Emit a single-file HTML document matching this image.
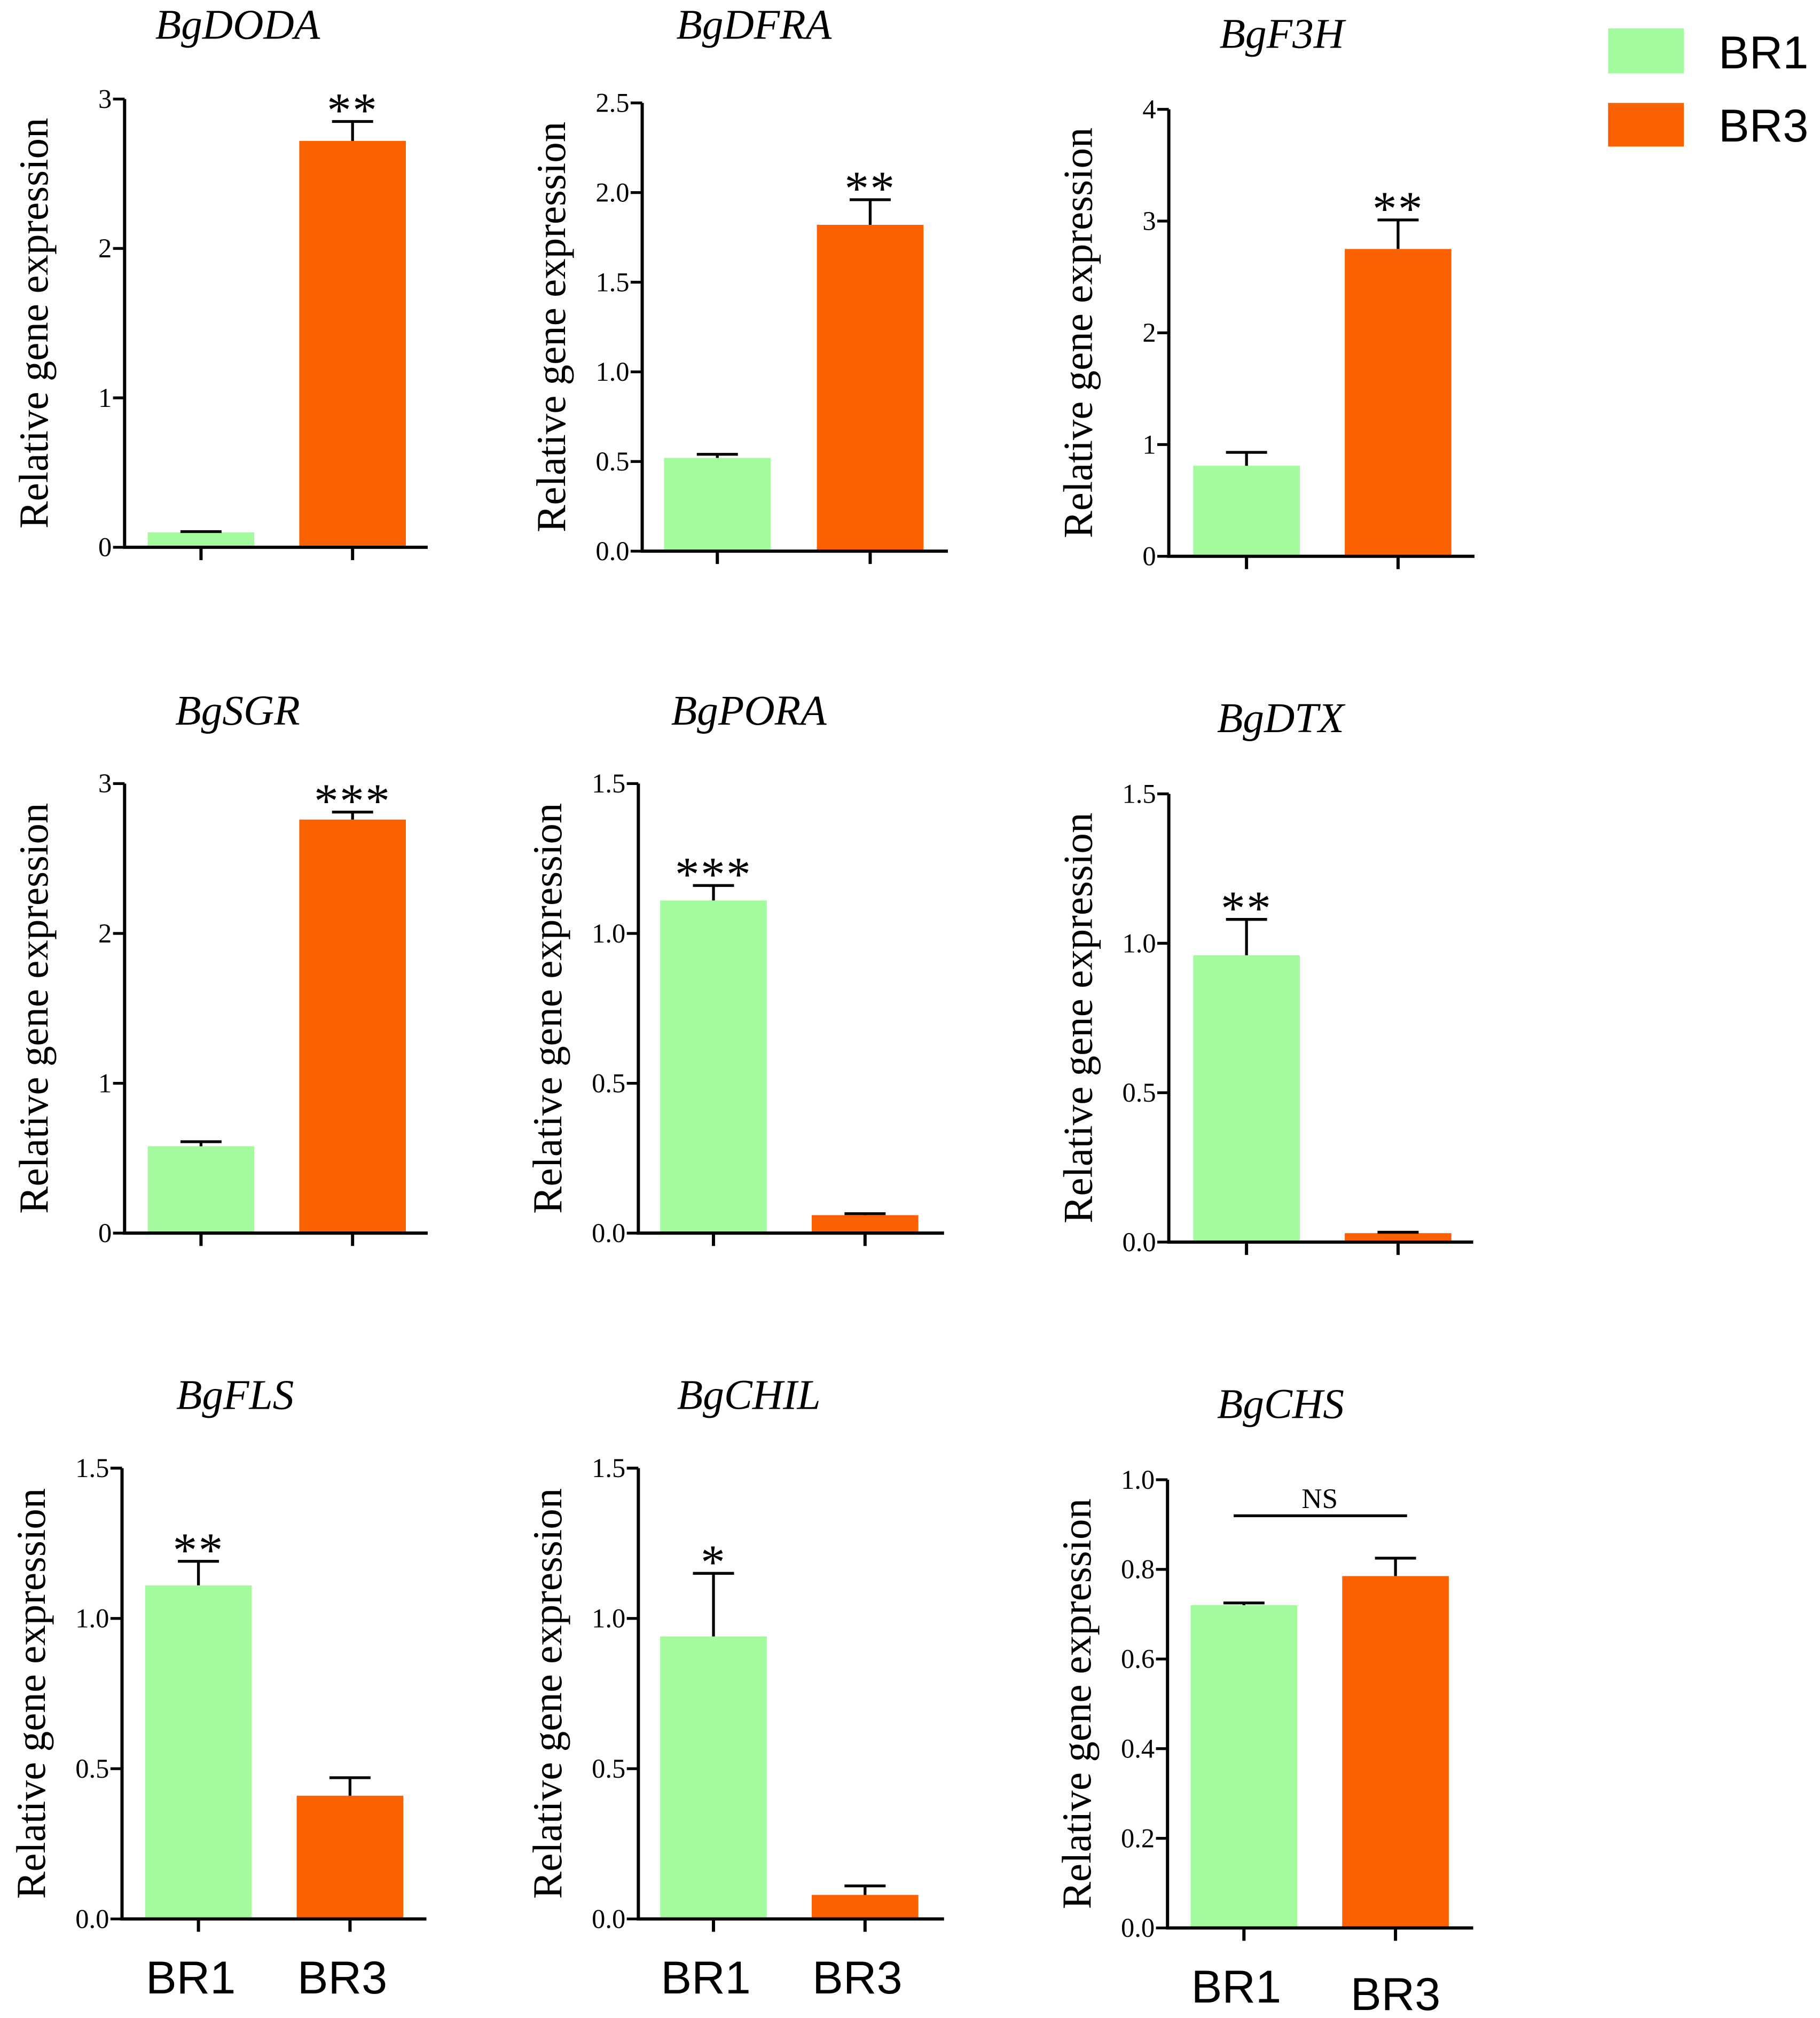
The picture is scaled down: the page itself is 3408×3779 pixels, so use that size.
<!DOCTYPE html>
<html><head><meta charset="utf-8"><style>
html,body{margin:0;padding:0;background:#fff}
svg{display:block}
</style></head><body>
<svg id="chart" width="3408" height="3779" viewBox="0 0 1417 1571" xmlns="http://www.w3.org/2000/svg">
<g>
<rect x="1252" y="22" width="59" height="35" fill="#a3fb9e"/>
<text x="1338" y="53" font-family="Liberation Sans, sans-serif" font-size="36">BR1</text>
<rect x="1252" y="80" width="59" height="34" fill="#fc6100"/>
<text x="1338" y="110" font-family="Liberation Sans, sans-serif" font-size="36">BR3</text>
</g>
</svg>
<script>
const genes = ["BgDODA","BgDFRA","BgF3H","BgSGR","BgPORA","BgDTX","BgFLS","BgCHIL","BgCHS"];
const br1Values = [0.10,0.52,0.81,0.58,1.11,0.96,1.11,0.94,0.72];
const br1Errors = [0.005,0.02,0.12,0.03,0.05,0.12,0.08,0.21,0.005];
const br3Values = [2.72,1.82,2.75,2.76,0.06,0.03,0.41,0.08,0.785];
const br3Errors = [0.13,0.14,0.26,0.05,0.005,0.003,0.06,0.03,0.04];
const sigLabels = ["**","**","**","***","***","**","**","*","NS"];
const sigOnBar = [1,1,1,1,0,0,0,0,-1];
const yMax = [3,2.5,4,3,1.5,1.5,1.5,1.5,1.0];
const yStep = [1,0.5,1,1,0.5,0.5,0.5,0.5,0.2];
const tickDecimals = [0,1,0,0,1,1,1,1,1];
const categories = ["BR1","BR3"];

// layout (not data)
const layout = [
 {ax:97,y0:426,yt:77,end:333,b1:115,b2:233,tx:185,ty:30},
 {ax:500,y0:429,yt:80,end:738,b1:517,b2:636,tx:587,ty:30},
 {ax:910,y0:433,yt:85,end:1148,b1:929,b2:1047,tx:998,ty:37},
 {ax:97,y0:960,yt:610,end:333,b1:115,b2:233,tx:185,ty:564},
 {ax:497,y0:960,yt:610,end:735,b1:514,b2:632,tx:583,ty:564},
 {ax:910,y0:967,yt:618,end:1147,b1:929,b2:1047,tx:997,ty:570},
 {ax:95,y0:1494,yt:1143,end:332,b1:113,b2:231,tx:183,ty:1097},
 {ax:497,y0:1494,yt:1143,end:735,b1:514,b2:632,tx:583,ty:1097},
 {ax:909,y0:1501,yt:1152,end:1147,b1:927,b2:1045,tx:997,ty:1104}
];
const NS="http://www.w3.org/2000/svg";
const svg=document.getElementById('chart');
function mk(tag,attrs,parent){const e=document.createElementNS(NS,tag);for(const k in attrs)e.setAttribute(k,attrs[k]);(parent||svg).appendChild(e);return e;}
const BW=83, COL=["#a3fb9e","#fc6100"];
genes.forEach((g,i)=>{
 const L=layout[i];
 const y=v=>L.y0-(v/yMax[i])*(L.y0-L.yt);
 const grp=mk('g',{});
 
 
 const t=mk('text',{x:L.tx,y:L.ty,'text-anchor':'middle','font-family':'Liberation Serif, serif','font-style':'italic','font-size':33},grp);
 t.textContent=g;
 
 
 const yl=mk('text',{x:0,y:0,transform:`translate(${L.ax-60},${(L.y0+L.yt)/2}) rotate(-90)`,'text-anchor':'middle','font-family':'Liberation Serif, serif','font-size':32},grp);
 yl.textContent='Relative gene expression';
 
 
 const vals=[br1Values[i],br3Values[i]], errs=[br1Errors[i],br3Errors[i]], bx=[L.b1,L.b2];
 vals.forEach((v,j)=>{
  const r=mk('rect',{x:bx[j],y:y(v),width:BW,height:L.y0-y(v),fill:COL[j]},grp);
  
  
  const cx=bx[j]+BW/2, ye=y(v+errs[j]);
  const e=mk('path',{d:`M${cx},${y(v)}V${ye}M${cx-16},${ye}H${cx+16}`,stroke:'#000','stroke-width':2.2,fill:'none'},grp);
  
  
  const xt=mk('line',{x1:cx,x2:cx,y1:L.y0,y2:L.y0+10,stroke:'#000','stroke-width':2.5},grp);
  
  
  if(i>=6){
   const xl=mk('text',{x:cx-6+(i===8&&j===1?6:0),y:L.y0+58+(i===8&&j===1?6:0),'text-anchor':'middle','font-family':'Liberation Sans, sans-serif','font-size':36},grp);
   xl.textContent=categories[j];
   
   
  }
 });
 if(sigOnBar[i]>=0){
  const j=sigOnBar[i], cx=bx[j]+BW/2;
  const s=mk('text',{x:cx,y:y(vals[j]+errs[j])+4,'text-anchor':'middle','font-family':'Liberation Serif, serif','font-size':38,'letter-spacing':'1'},grp);
  s.textContent=sigLabels[i];
  
  
 } else {
  const top=Math.max(vals[0]+errs[0],vals[1]+errs[1]);
  const ly=y(top)-33;
  const nl=mk('line',{x1:L.b1+BW/2-8,x2:L.b2+BW/2+9,y1:ly,y2:ly,stroke:'#000','stroke-width':2.2},grp);
  
  
  const s=mk('text',{x:(L.b1+L.b2+BW)/2,y:ly-6,'text-anchor':'middle','font-family':'Liberation Serif, serif','font-size':22},grp);
  s.textContent=sigLabels[i];
  
  
 }
 const axes=mk('path',{d:`M${L.ax},${L.yt}V${L.y0}H${L.end}`,stroke:'#000','stroke-width':2.5,fill:'none'},grp);
 
 
 const n=Math.round(yMax[i]/yStep[i]);
 for(let k=0;k<=n;k++){
  const v=k*yStep[i], yy=y(v);
  const tk=mk('line',{x1:L.ax-9,x2:L.ax,y1:yy,y2:yy,stroke:'#000','stroke-width':2.2},grp);
  
  
  const tl=mk('text',{x:L.ax-10,y:yy+7,'text-anchor':'end','font-family':'Liberation Serif, serif','font-size':21},grp);
  tl.textContent=v.toFixed(tickDecimals[i]);
  
  
 }
});
</script>
</body></html>
